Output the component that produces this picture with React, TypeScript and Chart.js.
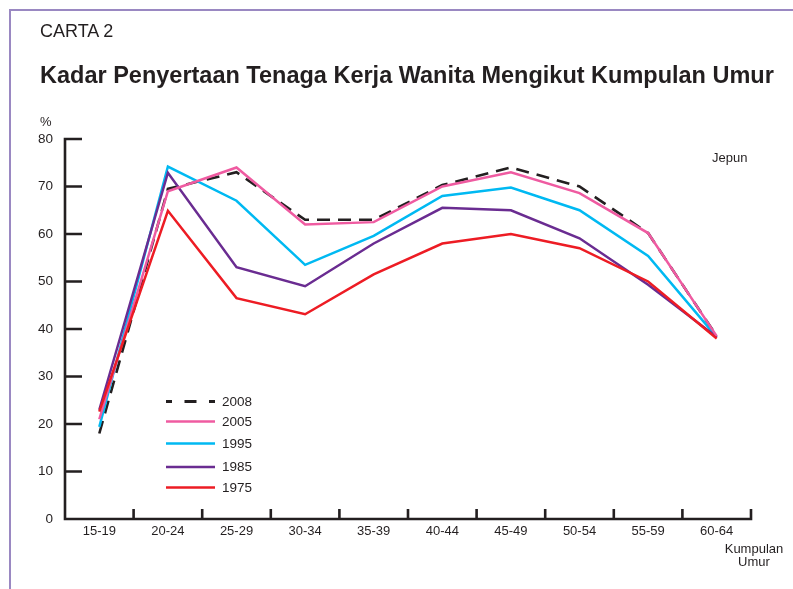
import React, { useEffect, useRef } from "react";
import { Chart, registerables } from "chart.js";

Chart.register(...registerables);

const ageGroups = ["15-19", "20-24", "25-29", "30-34", "35-39", "40-44", "45-49", "50-54", "55-59", "60-64"];
const seriesLabels = ["2008", "2005", "1995", "1985", "1975"];
const v2008 = [18, 69.5, 73, 63, 63, 70.3, 74, 70, 60.2, 38.5];
const v2005 = [21, 69, 74, 62, 62.5, 70, 73, 68.6, 60.2, 38.5];
const v1995 = [19.4, 74.2, 67, 53.5, 59.6, 68, 69.8, 65, 55.4, 38.3];
const v1985 = [23, 72.9, 53, 49, 58, 65.5, 65, 59.1, 49.3, 38.3];
const v1975 = [22.6, 64.9, 46.5, 43.1, 51.5, 58, 60, 57, 50, 38];
const seriesColors = ["#231f20", "#ef5ba1", "#00b9f2", "#6a2c91", "#ed1c24"];
const yTickValues = [0, 10, 20, 30, 40, 50, 60, 70, 80];

const FONT = "'Liberation Sans', Arial, Helvetica, sans-serif";
const INK = "#231f20";

const axesPlugin = {
  id: "customAxes",
  beforeDatasetsDraw(chart: any) {
    const ctx = chart.ctx;
    const { left, right, bottom } = chart.chartArea;
    const y = chart.scales.y;
    const n = ageGroups.length;
    ctx.save();
    ctx.strokeStyle = INK;
    ctx.lineWidth = 2.6;
    ctx.lineCap = "butt";
    ctx.beginPath();
    ctx.moveTo(left, y.getPixelForValue(80) - 1.3);
    ctx.lineTo(left, bottom + 1.3);
    ctx.moveTo(left, bottom);
    ctx.lineTo(right + 1.3, bottom);
    yTickValues.forEach((v) => {
      const py = y.getPixelForValue(v);
      ctx.moveTo(left, py);
      ctx.lineTo(left + 17, py);
    });
    for (let i = 1; i <= n; i++) {
      const px = left + (i * (right - left)) / n;
      ctx.moveTo(px, bottom);
      ctx.lineTo(px, bottom - 10);
    }
    ctx.stroke();
    ctx.restore();
  },
};

const legendRows = [401.5, 421.5, 443.5, 467, 487.5];

const legendPlugin = {
  id: "customLegend",
  afterDatasetsDraw(chart: any) {
    const ctx = chart.ctx;
    ctx.save();
    seriesLabels.forEach((lab, i) => {
      const yy = legendRows[i];
      ctx.strokeStyle = seriesColors[i];
      ctx.lineWidth = i === 0 ? 3 : 2.6;
      ctx.setLineDash(i === 0 ? [6, 12.5, 12, 12.5, 6] : []);
      ctx.beginPath();
      ctx.moveTo(166, yy);
      ctx.lineTo(215, yy);
      ctx.stroke();
      ctx.setLineDash([]);
      ctx.fillStyle = INK;
      ctx.font = `13.5px ${FONT}`;
      ctx.textBaseline = "middle";
      ctx.textAlign = "left";
      ctx.fillText(lab, 222, yy + 0.5);
    });
    ctx.restore();
  },
};

export default function App() {
  const ref = useRef<HTMLCanvasElement | null>(null);

  useEffect(() => {
    if (!ref.current) return;
    const values = [v2008, v2005, v1995, v1985, v1975];
    const orders = [5, 2, 4, 3, 1];
    const chart = new Chart(ref.current, {
      type: "line",
      data: {
        labels: ageGroups,
        datasets: seriesLabels.map((lab, i) => ({
          label: lab,
          data: values[i],
          borderColor: seriesColors[i],
          backgroundColor: seriesColors[i],
          borderWidth: i === 0 ? 2.6 : 2.5,
          borderDash: i === 0 ? [13, 8] : [],
          pointRadius: 0,
          tension: 0,
          fill: false,
          order: orders[i],
        })),
      },
      options: {
        animation: false,
        responsive: false,
        maintainAspectRatio: false,
        layout: { padding: { left: 0, top: 139, right: 42, bottom: 0 } },
        plugins: {
          legend: { display: false },
          tooltip: { enabled: false },
          title: { display: false },
        },
        scales: {
          x: {
            type: "category",
            offset: true,
            grid: { display: false, drawTicks: false },
            border: { display: false },
            ticks: {
              padding: 5,
              color: INK,
              font: { family: FONT, size: 13 },
              maxRotation: 0,
              autoSkip: false,
            },
            afterFit: (s: any) => {
              s.height = 70;
            },
          },
          y: {
            min: 0,
            max: 80,
            grid: { display: false, drawTicks: false },
            border: { display: false },
            ticks: {
              stepSize: 10,
              padding: 12,
              color: INK,
              font: { family: FONT, size: 13.5 },
            },
            afterFit: (s: any) => {
              s.width = 65;
            },
          },
        },
      },
      plugins: [axesPlugin, legendPlugin],
    });
    return () => chart.destroy();
  }, []);

  const abs = (x: number, y: number, extra: any = {}) => ({
    position: "absolute" as const,
    left: x,
    top: y,
    fontFamily: FONT,
    color: INK,
    whiteSpace: "nowrap" as const,
    lineHeight: 1,
    ...extra,
  });

  return (
    <div style={{ position: "absolute", left: 0, top: 0, width: 793, height: 589, background: "#fff", overflow: "hidden" }}>
      <div style={{ position: "absolute", left: 9, top: 9, width: 2, height: 580, background: "#9a88c2" }} />
      <div style={{ position: "absolute", left: 9, top: 9, width: 784, height: 2, background: "#9a88c2" }} />
      <canvas ref={ref} width={793} height={589} style={{ position: "absolute", left: 0, top: 0, width: 793, height: 589 }} />
      <div style={abs(40, 22, { fontSize: 18 })}>CARTA 2</div>
      <div style={abs(40, 64, { fontSize: 23.5, fontWeight: "bold" })}>Kadar Penyertaan Tenaga Kerja Wanita Mengikut Kumpulan Umur</div>
      <div style={abs(40, 115, { fontSize: 13 })}>%</div>
      <div style={abs(712, 151, { fontSize: 13 })}>Jepun</div>
      <div style={abs(714, 543, { fontSize: 13, width: 80, textAlign: "center", lineHeight: "12.5px" })}>
        Kumpulan
        <br />
        Umur
      </div>
    </div>
  );
}
